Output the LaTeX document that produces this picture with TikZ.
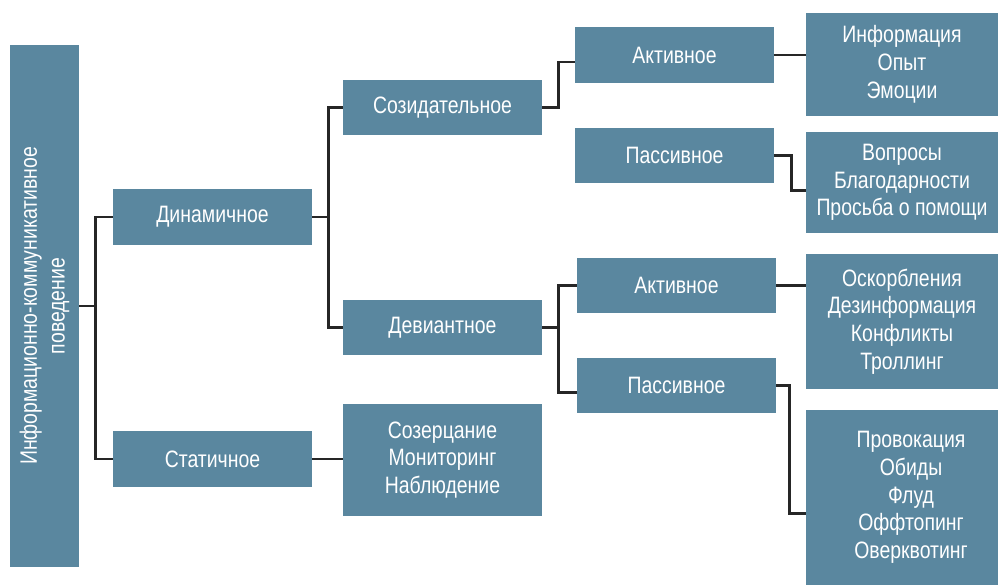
\documentclass[tikz,border=0pt]{standalone}
\usepackage{fontspec}
\setmainfont{Liberation Sans}[FakeStretch=0.82]
\definecolor{boxblue}{HTML}{5A879F}

\begin{document}
\begin{tikzpicture}[x=0.02cm, y=-0.02cm,
    box/.style={fill=boxblue, text=white, inner sep=0pt, align=center,
        font=\fontsize{13.5pt}{15.8pt}\selectfont},
    link/.style={line width=1.6pt, draw=black!85}]
            \useasboundingbox (0,0) rectangle (998,585);

            % root
            \node[box, rotate=90, minimum width=10.44cm, minimum height=1.38cm] (root) at (44.5,306) {Информационно-коммуникативное\\поведение};

            % second level
            \node[box, minimum width=3.98cm, minimum height=1.12cm] (dyn) at (212.5,217) {Динамичное};
            \node[box, minimum width=3.98cm, minimum height=1.12cm] (stat) at (212.5,459) {Статичное};

            % third level
            \node[box, minimum width=3.98cm, minimum height=1.1cm] (soz) at (442.5,107.5) {Созидательное};
            \node[box, minimum width=3.98cm, minimum height=1.1cm] (dev) at (442.5,327.5) {Девиантное};
            \node[box, minimum width=3.98cm, minimum height=2.24cm] (sozer) at (442.5,460) {Созерцание\\Мониторинг\\Наблюдение};

            % fourth level
            \node[box, minimum width=3.98cm, minimum height=1.12cm] (act1) at (674.5,55) {Активное};
            \node[box, minimum width=3.98cm, minimum height=1.1cm] (pas1) at (674.5,155.5) {Пассивное};
            \node[box, minimum width=3.98cm, minimum height=1.1cm] (act2) at (676.5,285.5) {Активное};
            \node[box, minimum width=3.98cm, minimum height=1.1cm] (pas2) at (676.5,385.5) {Пассивное};

            % leaves
            \node[box, minimum width=3.84cm, minimum height=2.06cm] (info) at (902,64.5) {Информация\\Опыт\\Эмоции};
            \node[box, minimum width=3.84cm, minimum height=2.02cm] (vopr) at (902,182.5) {Вопросы\\Благодарности\\Просьба о помощи};
            \node[box, minimum width=3.84cm, minimum height=2.7cm] (osk) at (902,321.5) {Оскорбления\\Дезинформация\\Конфликты\\Троллинг};
            \node[box, minimum width=3.84cm, minimum height=3.5cm] (prov) at (902,497.5) {\hspace*{0.36cm}Провокация\\\hspace*{0.36cm}Обиды\\\hspace*{0.36cm}Флуд\\\hspace*{0.36cm}Оффтопинг\\\hspace*{0.36cm}Оверквотинг};

            % connectors
            \draw[link] (root.south) -- +(16,0) |- (dyn.west);
            \draw[link] (root.south) -- +(16,0) |- (stat.west);
            \draw[link] (dyn.east) -- +(16,0) |- (soz.west);
            \draw[link] (dyn.east) -- +(16,0) |- (dev.west);
            \draw[link] (stat.east) -- (stat.east -| sozer.west);
            \draw[link] (soz.east) -- +(16,0) |- ([yshift=-0.14cm]act1.west);
            \draw[link] (act1.east) -- (act1.east -| info.west);
            \draw[link] (pas1.east) -- +(17,0) |- ([yshift=-0.16cm]vopr.west);
            \draw[link] (dev.east) -- +(16,0) |- (act2.west);
            \draw[link] (dev.east) -- +(16,0) |- ([yshift=-0.14cm]pas2.west);
            \draw[link] (act2.east) -- (act2.east -| osk.west);
            \draw[link] (pas2.east) -- +(13,0) |- ([yshift=-0.32cm]prov.west);
\end{tikzpicture}
\end{document}
